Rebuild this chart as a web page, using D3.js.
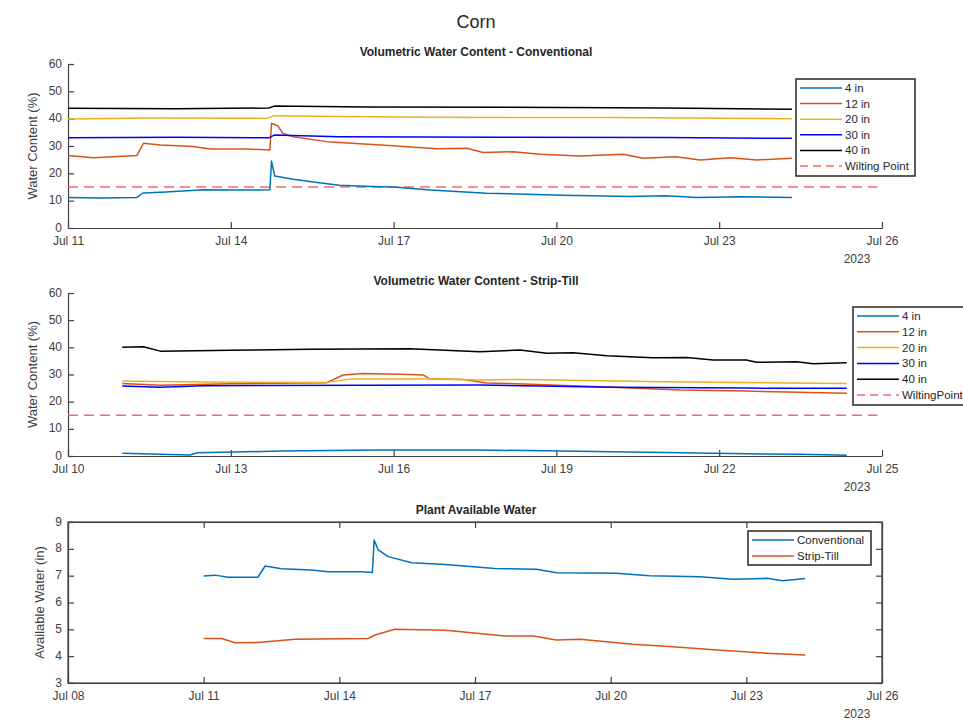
<!DOCTYPE html>
<html>
<head>
<meta charset="utf-8">
<script src="https://cdn.jsdelivr.net/npm/d3@7"></script>
<style>
  body { margin: 0; background: #fff; }
  text { font-family: "Liberation Sans", Arial, sans-serif; fill: #262626; }
  .axis path, .axis line { stroke: #404040; stroke-width: 1.2; }
  .axis text { font-size: 12px; fill: #404040; }
</style>
</head>
<body>
<svg width="963" height="721"></svg>
<script>
// day offsets from Jul 11 00:00, value
const conv4in  = [[0,11.2],[0.6,11.0],[1.27,11.2],[1.38,12.8],[1.8,13.2],[2.5,14.0],[3.0,13.9],[3.54,13.9],[3.72,14.0],[3.75,24.5],[3.81,19.0],[4.15,17.8],[4.52,16.8],[5.0,15.6],[5.6,15.2],[6.0,15.0],[6.67,13.9],[7.72,12.7],[9.12,12.0],[10.36,11.5],[11.0,11.8],[11.6,11.2],[12.4,11.4],[13.34,11.2]];
const conv12in = [[0,26.5],[0.47,25.7],[1.27,26.5],[1.39,31.0],[1.7,30.4],[2.31,29.8],[2.62,28.9],[3.3,28.9],[3.72,28.5],[3.75,38.3],[3.87,37.3],[3.96,34.6],[4.15,33.4],[4.77,31.6],[5.99,30.1],[6.79,29.0],[7.35,29.2],[7.65,27.6],[8.2,27.9],[8.7,27.0],[9.43,26.3],[10.23,27.0],[10.6,25.5],[11.2,26.1],[11.65,24.9],[12.2,25.7],[12.7,24.9],[13.34,25.5]];
const conv20in = [[0,39.9],[1.5,40.2],[3.66,40.1],[3.8,41.1],[5.0,40.8],[6.67,40.5],[10.0,40.4],[13.34,40.0]];
const conv30in = [[0,33.0],[2.0,33.2],[3.7,33.0],[3.8,34.0],[5.0,33.4],[8.0,33.2],[11.0,33.1],[13.34,32.8]];
const conv40in = [[0,43.8],[2.0,43.6],[3.7,43.9],[3.8,44.6],[5.5,44.3],[8.0,44.2],[11.0,43.9],[13.34,43.4]];

const strip4in  = [[0,1.0],[1.25,0.4],[1.38,1.2],[2.93,1.8],[4.69,2.2],[5.9,2.2],[6.59,2.2],[9.05,1.6],[10.89,1.0],[12.5,0.6],[13.35,0.3]];
const strip12in = [[0,26.7],[0.7,26.0],[2.0,26.6],[3.77,27.0],[4.07,29.8],[4.44,30.4],[5.3,30.0],[5.55,29.8],[5.67,28.3],[6.28,28.2],[6.71,26.9],[7.39,26.5],[9.05,25.3],[10.28,24.3],[11.5,23.9],[13.35,23.1]];
const strip20in = [[0,27.6],[1.5,27.2],[3.77,27.1],[4.2,28.3],[5.9,28.3],[6.6,28.0],[7.4,28.2],[10.0,27.3],[13.35,26.7]];
const strip30in = [[0,25.8],[0.7,25.3],[1.5,25.9],[6.59,26.1],[9.05,25.3],[11.5,25.0],[13.35,24.9]];
const strip40in = [[0,40.0],[0.39,40.2],[0.7,38.6],[2.0,38.9],[3.46,39.3],[5.3,39.5],[6.59,38.4],[7.33,39.0],[7.82,37.8],[8.31,38.0],[8.93,36.9],[9.78,36.2],[10.4,36.3],[10.89,35.3],[11.5,35.3],[11.69,34.5],[12.43,34.7],[12.73,34.0],[13.35,34.3]];

const pawConventional = [[0,6.99],[0.25,7.02],[0.54,6.94],[1.2,6.94],[1.36,7.36],[1.72,7.26],[2.38,7.21],[2.75,7.15],[3.49,7.15],[3.73,7.12],[3.77,8.33],[3.86,7.96],[4.08,7.71],[4.6,7.48],[5.34,7.42],[6.44,7.27],[7.36,7.24],[7.8,7.11],[9.13,7.09],[9.86,7.0],[10.97,6.96],[11.7,6.87],[12.45,6.9],[12.81,6.81],[13.3,6.89]];
const pawStripTill    = [[0,4.66],[0.4,4.66],[0.69,4.5],[1.2,4.51],[2.02,4.63],[3.64,4.66],[3.79,4.79],[4.23,5.0],[5.34,4.97],[5.7,4.91],[6.66,4.75],[7.29,4.75],[7.8,4.6],[8.32,4.63],[9.49,4.44],[10.38,4.35],[11.35,4.23],[12.45,4.11],[13.3,4.04]];

const wiltingPoint = 15;
const depthLabels = ["4 in", "12 in", "20 in", "30 in", "40 in"];
const depthColors = ["#0072BD", "#D95319", "#EDB120", "#0000FF", "#000000"];
const pawLabels = ["Conventional", "Strip-Till"];
const pawColors = ["#0072BD", "#D95319"];

const ticksConv  = ["2023-07-11","2023-07-14","2023-07-17","2023-07-20","2023-07-23","2023-07-26"];
const ticksStrip = ["2023-07-10","2023-07-13","2023-07-16","2023-07-19","2023-07-22","2023-07-25"];
const ticksPaw   = ["2023-07-08","2023-07-11","2023-07-14","2023-07-17","2023-07-20","2023-07-23","2023-07-26"];
const wcTicks = [0,10,20,30,40,50,60];
const pawTicks = [3,4,5,6,7,8,9];

const svg = d3.select("svg");
const parse = d3.timeParse("%Y-%m-%d");
const start = parse("2023-07-11");
const toDate = d => d3.timeMinute.offset(start, Math.round(d * 1440));
const fmt = d3.timeFormat("%b %d");
const left = 68, right = 882;

svg.append("rect").attr("width", 963).attr("height", 721).attr("fill", "#fff");
svg.append("text").attr("x", 476).attr("y", 28).attr("text-anchor", "middle")
  .style("font-size", "18px").text("Corn");

function panel(opt) {
  const x = d3.scaleTime().domain([parse(opt.ticks[0]), parse(opt.ticks[opt.ticks.length - 1])]).range([left, right]);
  const y = d3.scaleLinear().domain(opt.ydom).range([opt.bot, opt.top]);
  const g = svg.append("g");

  g.append("text").attr("x", 476).attr("y", opt.top - 8).attr("text-anchor", "middle")
    .style("font-size", "12px").style("font-weight", "bold").text(opt.title);

  if (opt.box) {
    g.append("rect").attr("x", left).attr("y", opt.top).attr("width", right - left).attr("height", opt.bot - opt.top)
      .attr("fill", "none").attr("stroke", "#404040").attr("stroke-width", 1.2);
    g.append("g").attr("class", "axis").attr("transform", `translate(0,${opt.top})`)
      .call(d3.axisTop(x).tickValues(opt.ticks.map(parse)).tickSizeInner(-6).tickSizeOuter(0).tickFormat(""));
    g.append("g").attr("class", "axis").attr("transform", `translate(${right},0)`)
      .call(d3.axisRight(y).tickValues(opt.yticks).tickSizeInner(-6).tickSizeOuter(0).tickFormat(""));
  }

  g.append("g").attr("class", "axis").attr("transform", `translate(0,${opt.bot})`)
    .call(d3.axisBottom(x).tickValues(opt.ticks.map(parse)).tickSizeInner(-6).tickSizeOuter(0).tickPadding(8).tickFormat(fmt));
  g.append("g").attr("class", "axis").attr("transform", `translate(${left},0)`)
    .call(d3.axisLeft(y).tickValues(opt.yticks).tickSizeInner(-6).tickSizeOuter(0).tickPadding(6).tickFormat(d3.format("d")))
    .selectAll("text").attr("dy", "0.25em");

  g.append("text").attr("x", 857).attr("y", opt.bot + 35).attr("text-anchor", "middle")
    .style("font-size", "12px").style("fill", "#404040").text("2023");

  g.append("text").attr("transform", `translate(${opt.ylabX},${(opt.top + opt.bot) / 2}) rotate(-90)`)
    .attr("text-anchor", "middle").style("font-size", "13px").style("fill", "#404040").text(opt.ylabel);

  const line = d3.line().x(d => x(toDate(d[0]))).y(d => y(d[1]));

  if (opt.wilt) {
    g.append("line").attr("x1", x(opt.wilt[0])).attr("x2", x(opt.wilt[1]))
      .attr("y1", y(wiltingPoint)).attr("y2", y(wiltingPoint))
      .attr("stroke", "#f26d6d").attr("stroke-width", 1.6).attr("stroke-dasharray", "10,6");
  }

  opt.series.forEach((s, i) => {
    g.append("path").datum(s).attr("d", line).attr("fill", "none")
      .attr("stroke", opt.colors[i]).attr("stroke-width", 1.5).attr("stroke-linejoin", "round");
  });

  // legend
  const L = opt.legend;
  const lg = svg.append("g");
  lg.append("rect").attr("x", L.x).attr("y", L.y).attr("width", L.w).attr("height", L.h)
    .attr("fill", "#fff").attr("stroke", "#262626").attr("stroke-width", 1.5);
  L.items.forEach((it, i) => {
    const yy = L.y + 9 + i * L.step;
    lg.append("line").attr("x1", L.x + 4).attr("x2", L.x + 46).attr("y1", yy).attr("y2", yy)
      .attr("stroke", it.color).attr("stroke-width", it.dash ? 1.6 : 1.5)
      .attr("stroke-dasharray", it.dash ? "8,5" : null);
    lg.append("text").attr("x", L.x + 49).attr("y", yy + 4).style("font-size", "11.5px").text(it.label);
  });
}

const depthItems = depthLabels.map((l, i) => ({ label: l, color: depthColors[i] }));

panel({
  title: "Volumetric Water Content - Conventional",
  ticks: ticksConv, ydom: [0, 60], yticks: wcTicks, top: 64, bot: 228,
  ylabel: "Water Content (%)", ylabX: 37, box: false,
  wilt: [parse("2023-07-11"), d3.timeHour.offset(parse("2023-07-25"), 22)],
  series: [conv4in, conv12in, conv20in, conv30in, conv40in], colors: depthColors,
  legend: { x: 796, y: 79, w: 119, h: 97, step: 15.6,
    items: depthItems.concat([{ label: "Wilting Point", color: "#f26d6d", dash: true }]) }
});

panel({
  title: "Volumetric Water Content - Strip-Till",
  ticks: ticksStrip, ydom: [0, 60], yticks: wcTicks, top: 293, bot: 456,
  ylabel: "Water Content (%)", ylabX: 37, box: false,
  wilt: [parse("2023-07-10"), d3.timeHour.offset(parse("2023-07-24"), 22)],
  series: [strip4in, strip12in, strip20in, strip30in, strip40in], colors: depthColors,
  legend: { x: 853, y: 307, w: 125, h: 98, step: 15.8,
    items: depthItems.concat([{ label: "WiltingPoint", color: "#f26d6d", dash: true }]) }
});

panel({
  title: "Plant Available Water",
  ticks: ticksPaw, ydom: [3, 9], yticks: pawTicks, top: 522, bot: 683,
  ylabel: "Available Water (in)", ylabX: 44, box: true,
  wilt: null,
  series: [pawConventional, pawStripTill], colors: pawColors,
  legend: { x: 748, y: 531, w: 123, h: 34, step: 16,
    items: pawLabels.map((l, i) => ({ label: l, color: pawColors[i] })) }
});
</script>
</body>
</html>
